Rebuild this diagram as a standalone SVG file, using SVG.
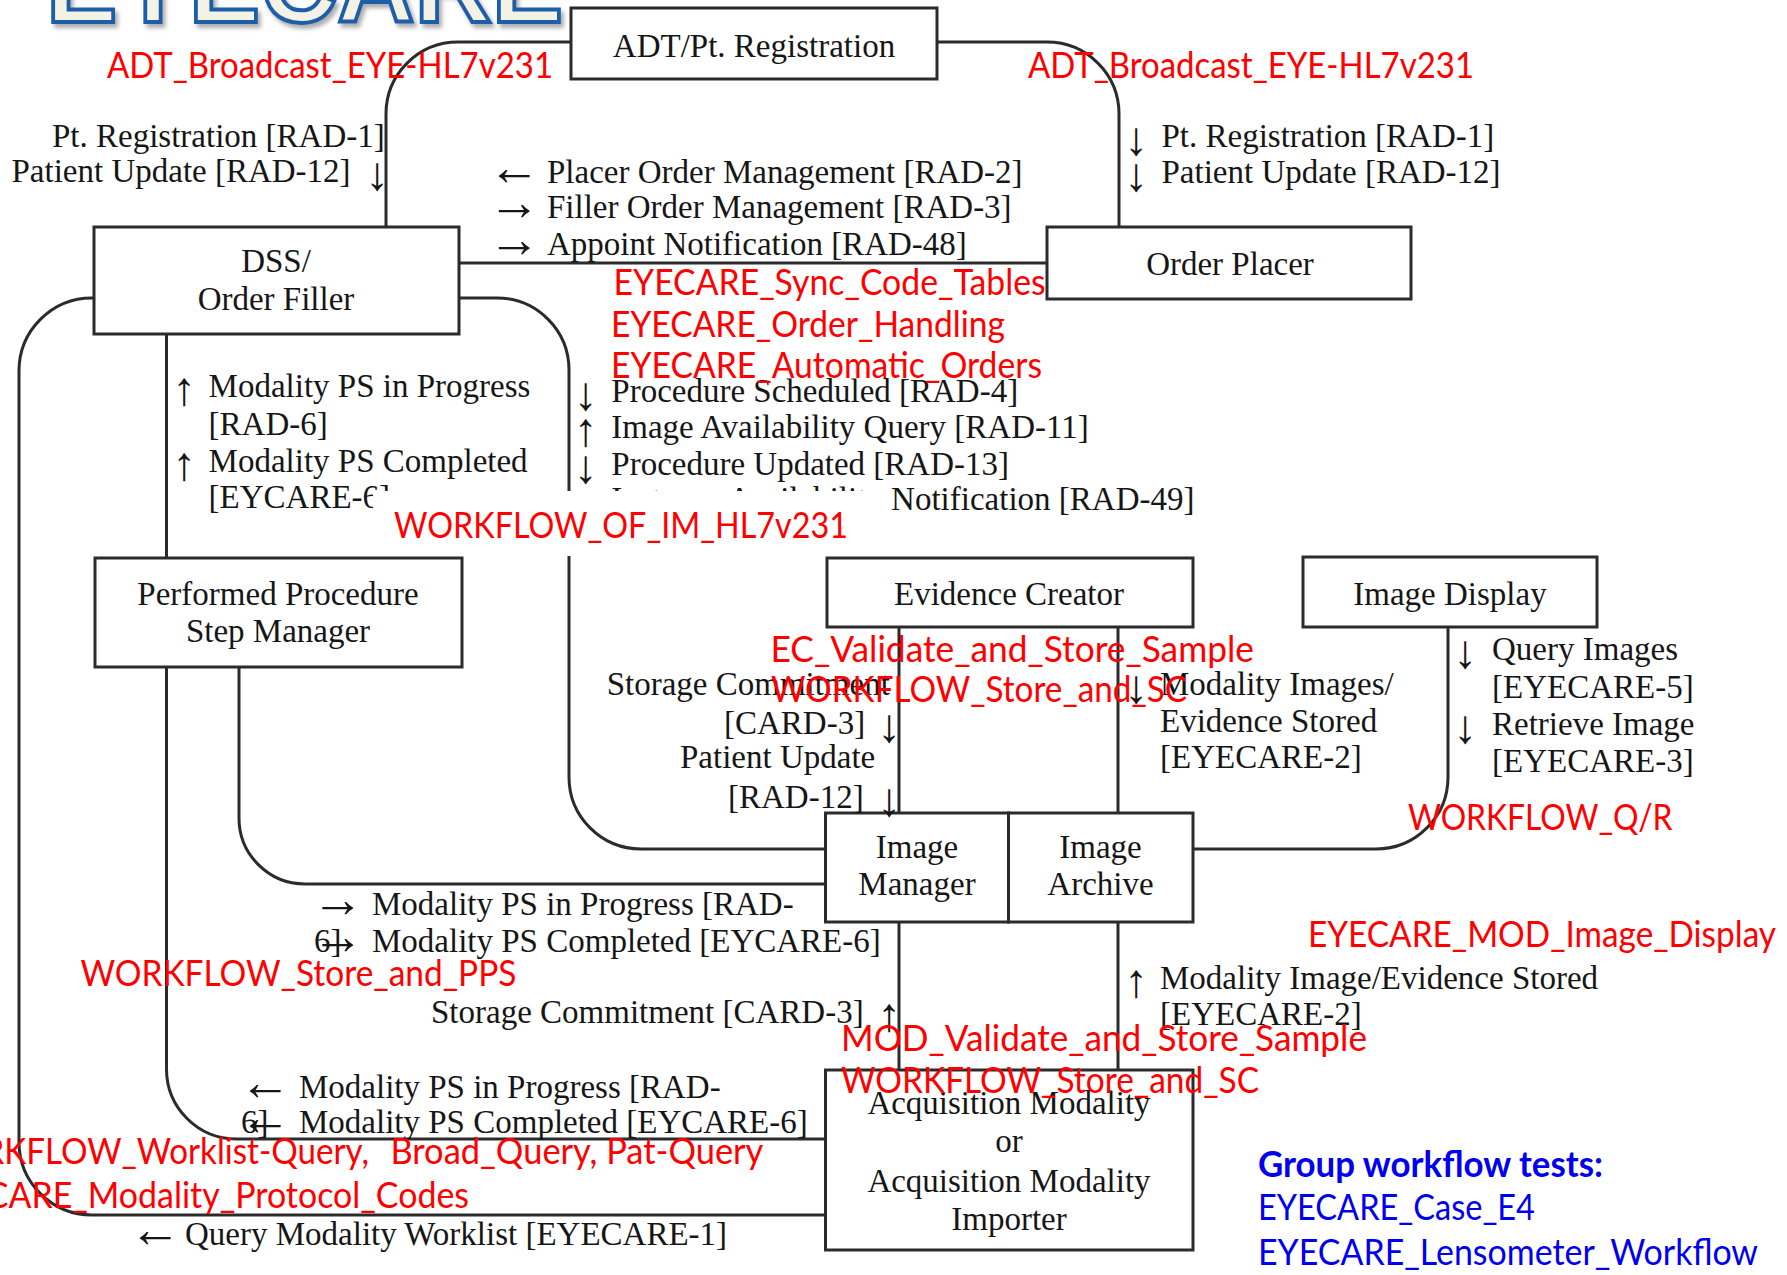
<svg xmlns="http://www.w3.org/2000/svg" width="1787" height="1275" viewBox="0 0 1787 1275">
<defs>
<style>
.box{fill:#fff;stroke:#2b2b2b;stroke-width:3}
.ln{fill:none;stroke:#2b2b2b;stroke-width:3}
.t{font-family:"Liberation Serif","Times New Roman",serif;font-size:33px;fill:#161616}
.ah{font-family:"Liberation Serif","Times New Roman",serif;font-size:52px;fill:#161616;text-anchor:middle}
.av{font-family:"Liberation Serif","Times New Roman",serif;font-size:47px;fill:#161616;text-anchor:middle}
.m{text-anchor:middle}
.red{font-family:Lato,"Liberation Sans",sans-serif;font-size:37px;fill:#ff0000}
.blue{font-family:Lato,"Liberation Sans",sans-serif;font-size:37px;fill:#0000ee}
.logo{font-family:"Liberation Sans",sans-serif;font-weight:bold;font-size:112px;fill:#f4f2e4;stroke:#1f5ea8;stroke-width:4}
</style>
<filter id="sh" x="-5%" y="-30%" width="110%" height="160%"><feDropShadow dx="3" dy="4" stdDeviation="2" flood-color="#777" flood-opacity="0.6"/></filter>
</defs>
<rect width="1787" height="1275" fill="#fff"/>
<g id="logo"><text class="logo" x="46" y="22" textLength="517" lengthAdjust="spacingAndGlyphs" filter="url(#sh)">EYECARE</text></g>

<g id="connectors" class="ln">
<path d="M571,42 H458 A72,72 0 0 0 386,114 V227"/>
<path d="M937,42 H1047 A72,72 0 0 1 1119,114 V227"/>
<path d="M459,263 H1047"/>
<path d="M459,298 H497 A72,72 0 0 1 569,370 V777 A72,72 0 0 0 641,849 H825"/>
<path d="M94,298 H92 A73,73 0 0 0 19,371 V1142 A73,73 0 0 0 92,1215 H825"/>
<path d="M166.5,334 V558"/>
<path d="M166.5,667 V1069 A70,70 0 0 0 236.5,1139 H825"/>
<path d="M239,667 V818 A66,66 0 0 0 305,884 H825"/>
<path d="M1448,627 V777 A72,72 0 0 1 1376,849 H1193"/>
<path d="M899,627 V813"/>
<path d="M1118,627 V813"/>
<path d="M899,922 V1070"/>
<path d="M1118,922 V1070"/>
</g>

<g id="adt"><rect class="box" x="571" y="8" width="366" height="71"/><text class="t m" x="754" y="57">ADT/Pt. Registration</text></g>
<g id="order-placer"><rect class="box" x="1047" y="227" width="364" height="72"/><text class="t m" x="1230" y="275">Order Placer</text></g>
<g id="dss-order-filler"><rect class="box" x="94" y="227" width="365" height="107"/><text class="t m" x="276" y="272">DSS/</text><text class="t m" x="276" y="310">Order Filler</text></g>
<g id="ppsm"><rect class="box" x="95" y="558" width="367" height="109"/><text class="t m" x="278" y="605">Performed Procedure</text><text class="t m" x="278" y="642">Step Manager</text></g>
<g id="evidence-creator"><rect class="box" x="827" y="558" width="366" height="69"/><text class="t m" x="1009" y="605">Evidence Creator</text></g>
<g id="image-display"><rect class="box" x="1303" y="557" width="294" height="70"/><text class="t m" x="1450" y="605">Image Display</text></g>
<g id="image-manager"><rect class="box" x="825.5" y="813" width="183" height="109"/><text class="t m" x="917" y="858">Image</text><text class="t m" x="917" y="895">Manager</text></g>
<g id="image-archive"><rect class="box" x="1008.5" y="813" width="184.5" height="109"/><text class="t m" x="1100.5" y="858">Image</text><text class="t m" x="1100.5" y="895">Archive</text></g>
<g id="acquisition-modality"><rect class="box" x="825.5" y="1070" width="367.5" height="180"/><text class="t m" x="1009" y="1114">Acquisition Modality</text><text class="t m" x="1009" y="1152">or</text><text class="t m" x="1009" y="1192">Acquisition Modality</text><text class="t m" x="1009" y="1230">Importer</text></g>

<g id="transaction-labels">
<text class="t" x="52" y="147">Pt. Registration [RAD-1]</text>
<text class="t" x="11.5" y="182">Patient Update [RAD-12]</text>
<text class="av" x="377" y="190">↓</text>
<text class="av" x="1136" y="155">↓</text><text class="t" x="1161.5" y="147">Pt. Registration [RAD-1]</text>
<text class="av" x="1136" y="191">↓</text><text class="t" x="1161.5" y="183">Patient Update [RAD-12]</text>
<text class="ah" x="514" y="185">←</text><text class="t" x="547" y="183">Placer Order Management [RAD-2]</text>
<text class="ah" x="514" y="220">→</text><text class="t" x="547" y="218">Filler Order Management [RAD-3]</text>
<text class="ah" x="514" y="257">→</text><text class="t" x="547" y="255">Appoint Notification [RAD-48]</text>
<text class="av" x="184" y="405">↑</text><text class="t" x="208.6" y="397">Modality PS in Progress</text>
<text class="t" x="208.6" y="435">[RAD-6]</text>
<text class="av" x="184" y="480">↑</text><text class="t" x="208.6" y="472">Modality PS Completed</text>
<text class="t" x="208.6" y="508">[EYCARE-6]</text>
<text class="av" x="585.6" y="410">↓</text><text class="t" x="611.3" y="402">Procedure Scheduled [RAD-4]</text>
<text class="av" x="585.6" y="446">↑</text><text class="t" x="611.3" y="438">Image Availability Query [RAD-11]</text>
<text class="av" x="585.6" y="483">↓</text><text class="t" x="611.3" y="475">Procedure Updated [RAD-13]</text>
<text class="av" x="585.6" y="518">↓</text><text class="t" x="611.3" y="510">Instance Availability Notification [RAD-49]</text>
<text class="t" x="606.7" y="695">Storage Commitment</text>
<text class="t" x="724" y="734">[CARD-3]</text><text class="av" x="889" y="742">↓</text>
<text class="t" x="680" y="768">Patient Update</text>
<text class="t" x="728" y="808">[RAD-12]</text><text class="av" x="889" y="816">↓</text>
<text class="av" x="1136" y="703">↓</text><text class="t" x="1160" y="695">Modality Images/</text>
<text class="t" x="1160" y="732">Evidence Stored</text>
<text class="t" x="1160" y="768">[EYECARE-2]</text>
<text class="av" x="1465" y="668">↓</text><text class="t" x="1492" y="660">Query Images</text>
<text class="t" x="1492" y="698">[EYECARE-5]</text>
<text class="av" x="1465" y="743">↓</text><text class="t" x="1492" y="735">Retrieve Image</text>
<text class="t" x="1492" y="772">[EYECARE-3]</text>
<text class="ah" x="337.5" y="917">→</text><text class="t" x="372" y="915">Modality PS in Progress [RAD-</text>
<text class="t" x="314" y="952">6]</text><text class="ah" x="337.5" y="954">→</text><text class="t" x="372" y="952">Modality PS Completed [EYCARE-6]</text>
<text class="t" x="431" y="1023">Storage Commitment [CARD-3]</text><text class="av" x="889" y="1031">↑</text>
<text class="av" x="1136" y="997">↑</text><text class="t" x="1160" y="989">Modality Image/Evidence Stored</text>
<text class="t" x="1160" y="1025">[EYECARE-2]</text>
<text class="ah" x="265" y="1100">←</text><text class="t" x="299" y="1098">Modality PS in Progress [RAD-</text>
<text class="t" x="241" y="1133">6]</text><text class="ah" x="265" y="1135">←</text><text class="t" x="299" y="1133">Modality PS Completed [EYCARE-6]</text>
<text class="ah" x="155" y="1247">←</text><text class="t" x="185" y="1245">Query Modality Worklist [EYECARE-1]</text>
</g>

<rect id="label-mask" x="373" y="491" width="511" height="65" fill="#fff"/>

<g id="test-labels">
<text class="red" x="107" y="78" textLength="446" lengthAdjust="spacingAndGlyphs">ADT_Broadcast_EYE-HL7v231</text>
<text class="red" x="1028" y="78" textLength="446" lengthAdjust="spacingAndGlyphs">ADT_Broadcast_EYE-HL7v231</text>
<text class="red" x="613.6" y="295" textLength="432" lengthAdjust="spacingAndGlyphs">EYECARE_Sync_Code_Tables</text>
<text class="red" x="611" y="337" textLength="394" lengthAdjust="spacingAndGlyphs">EYECARE_Order_Handling</text>
<text class="red" x="611" y="378" textLength="431" lengthAdjust="spacingAndGlyphs">EYECARE_Automatic_Orders</text>
<text class="red" x="394" y="538" textLength="454" lengthAdjust="spacingAndGlyphs">WORKFLOW_OF_IM_HL7v231</text>
<text class="red" x="770.5" y="662" textLength="483.5" lengthAdjust="spacingAndGlyphs">EC_Validate_and_Store_Sample</text>
<text class="red" x="771" y="702" textLength="416" lengthAdjust="spacingAndGlyphs">WORKFLOW_Store_and_SC</text>
<text class="red" x="1408" y="830" textLength="264.5" lengthAdjust="spacingAndGlyphs">WORKFLOW_Q/R</text>
<text class="red" x="1308" y="947" textLength="468" lengthAdjust="spacingAndGlyphs">EYECARE_MOD_Image_Display</text>
<text class="red" x="80.4" y="986" textLength="436" lengthAdjust="spacingAndGlyphs">WORKFLOW_Store_and_PPS</text>
<text class="red" x="841" y="1051" textLength="526" lengthAdjust="spacingAndGlyphs">MOD_Validate_and_Store_Sample</text>
<text class="red" x="841" y="1093" textLength="418" lengthAdjust="spacingAndGlyphs">WORKFLOW_Store_and_SC</text>
<text class="red" y="1164"><tspan x="-77" textLength="446" lengthAdjust="spacingAndGlyphs">WORKFLOW_Worklist-Query,</tspan><tspan x="390.4" textLength="373" lengthAdjust="spacingAndGlyphs">Broad_Query, Pat-Query</tspan></text>
<text class="red" x="-74" y="1208" textLength="543" lengthAdjust="spacingAndGlyphs">EYECARE_Modality_Protocol_Codes</text>
<text class="blue" x="1258" y="1177" font-weight="bold" textLength="345" lengthAdjust="spacingAndGlyphs">Group workflow tests:</text>
<text class="blue" x="1258" y="1220" textLength="277" lengthAdjust="spacingAndGlyphs">EYECARE_Case_E4</text>
<text class="blue" x="1258" y="1265" textLength="500" lengthAdjust="spacingAndGlyphs">EYECARE_Lensometer_Workflow</text>
</g>
</svg>
